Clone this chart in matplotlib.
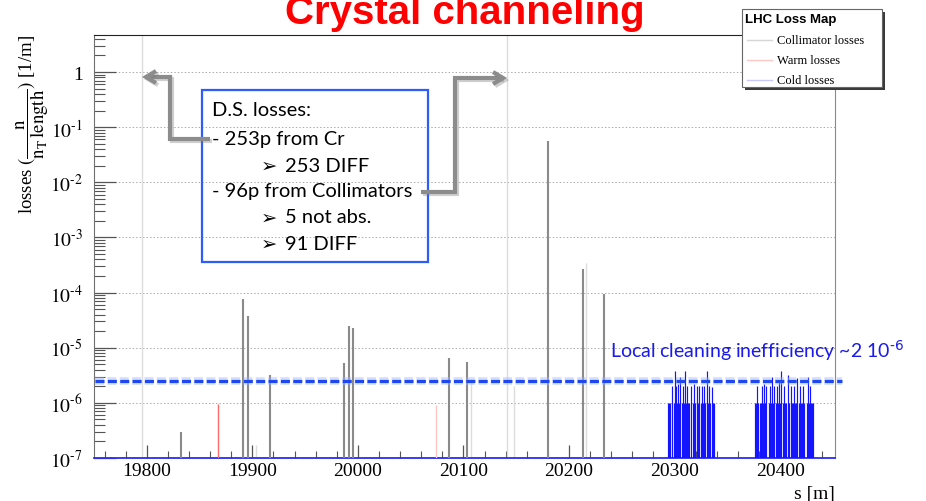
import numpy as np
import matplotlib
matplotlib.use("Agg")
import matplotlib.pyplot as plt
from matplotlib.patches import Rectangle
from matplotlib.ticker import FixedLocator, LogLocator, MultipleLocator, FuncFormatter, NullFormatter
import matplotlib.patheffects as pe
import matplotlib.transforms as mtrans

plt.rcParams['font.family'] = ['Liberation Serif', 'DejaVu Sans']
plt.rcParams['mathtext.fontset'] = 'stix'
plt.rcParams['lines.scale_dashes'] = False

# ---- loss map data: longitudinal position s [m] and normalised loss [1/m]
coll_s = [19832.5, 19891.5, 19896.0, 19917.0, 19987.0, 19991.7, 19995.0,
          20086.7, 20103.0, 20180.0, 20213.6, 20233.0]
coll_loss = [3.0e-7, 7.6e-5, 3.8e-5, 3.2e-6, 5.2e-6, 2.5e-5, 2.3e-5,
             6.5e-6, 5.6e-6, 5.6e-2, 2.7e-4, 9.3e-5]

coll_faint_s = [19795.0, 19903.0, 20107.0, 20141.5, 20148.0, 20216.0]
coll_faint_loss = [10.0, 1.7e-7, 2.4e-6, 10.0, 2.0e-6, 3.4e-4]

warm_s = [19867.8, 20074.0]
warm_loss = [9.5e-7, 9.0e-7]

cold_s = [20294, 20295, 20296, 20298, 20299, 20300, 20301, 20302, 20303, 20304,
          20305, 20307, 20308, 20309, 20310, 20311, 20312, 20313, 20314, 20316,
          20317, 20318, 20319, 20321, 20322, 20323, 20325, 20326, 20327, 20328,
          20329, 20331, 20332, 20333, 20334, 20335, 20336, 20337,
          20376, 20377, 20378, 20379, 20381, 20382, 20383, 20384, 20385, 20386,
          20387, 20389, 20390, 20391, 20392, 20393, 20394, 20396, 20397, 20398,
          20399, 20400, 20401, 20403, 20404, 20405, 20406, 20407, 20408, 20410,
          20411, 20412, 20413, 20414, 20415, 20416, 20418, 20419, 20420, 20421,
          20422, 20423, 20425, 20426, 20427, 20428, 20429, 20430, 20431]
cold_loss = [1e-6, 1e-6, 1e-6, 2e-6, 1e-6, 3.8e-6, 2e-6, 1e-6, 2.2e-6, 1e-6,
             3e-6, 1e-6, 2e-6, 1e-6, 3.8e-6, 1e-6, 2e-6, 1e-6, 1e-6, 2e-6,
             1e-6, 2.2e-6, 1e-6, 2e-6, 1e-6, 2e-6, 1e-6, 2e-6, 1e-6, 2e-6,
             1e-6, 3.8e-6, 1e-6, 2e-6, 1e-6, 1.9e-6, 1e-6, 1e-6,
             1e-6, 1e-6, 2e-6, 1e-6, 1e-6, 1e-6, 2e-6, 1e-6, 2.2e-6, 1e-6,
             2e-6, 1e-6, 2e-6, 1e-6, 3e-6, 1e-6, 2e-6, 1e-6, 2e-6, 1e-6,
             2.5e-6, 1e-6, 3.8e-6, 1e-6, 2e-6, 1e-6, 1e-6, 3.2e-6, 1e-6, 2e-6,
             1e-6, 1e-6, 2e-6, 1e-6, 1e-6, 2.8e-6, 1e-6, 2e-6, 1e-6, 1e-6,
             2e-6, 1e-6, 1e-6, 3e-6, 1e-6, 2e-6, 1e-6, 1e-6, 1e-6]

cleaning_limit = 2.5e-6

y_decades = [1e-7, 1e-6, 1e-5, 1e-4, 1e-3, 1e-2, 1e-1, 1.0]
x_range = (19750, 20452)
y_range = (1e-7, 4.7)

W, H = 926, 502
fig = plt.figure(figsize=(W / 100, H / 100), dpi=100)
ax = fig.add_axes([94 / W, 43 / H, 741 / W, 423 / H])
ax.set_yscale('log')
ax.set_xlim(*x_range)
ax.set_ylim(*y_range)

# horizontal dotted grid at each decade
for v in y_decades[1:]:
    ax.axhline(v, color='#a8a8a8', lw=0.7, ls=(0, (1, 1.5)), zorder=0)

floor = y_range[0]
ax.vlines(coll_faint_s, floor, coll_faint_loss, color='#dcdcdc', lw=1.0, zorder=2)
ax.vlines(coll_s, floor, coll_loss, color='#8a8a8a', lw=1.5, zorder=3)
ax.vlines(warm_s[:1], floor, warm_loss[:1], color='#ff6a6a', lw=1.0, zorder=3)
ax.vlines(warm_s[1:], floor, warm_loss[1:], color='#ffc4c4', lw=1.0, zorder=3)
ax.vlines(cold_s, floor, cold_loss, color='#1414ff', lw=0.85, zorder=3)

# axis frame
ax.spines['left'].set_color('#707070')
ax.spines['right'].set_color('#8a8a8a')
ax.spines['top'].set_color('#222222')
ax.spines['bottom'].set_color('#2a2aff')
ax.spines['bottom'].set_linewidth(1.3)

ax.yaxis.set_major_locator(FixedLocator(y_decades))
ax.yaxis.set_minor_locator(LogLocator(base=10, subs=np.arange(2, 10), numticks=20))
ax.yaxis.set_minor_formatter(NullFormatter())


def ylab(v, pos):
    e = int(round(np.log10(v)))
    return '1' if e == 0 else r'$10^{\text{-}%d}$' % abs(e)


ax.yaxis.set_major_formatter(FuncFormatter(ylab))
ax.xaxis.set_major_locator(MultipleLocator(100))
ax.xaxis.set_minor_locator(MultipleLocator(20))
ax.tick_params(axis='y', which='major', direction='in', length=16, width=0.9,
               color='#555555', labelsize=14, pad=8)
ax.tick_params(axis='y', which='minor', direction='in', length=8, width=0.8,
               color='#555555')
ax.tick_params(axis='x', which='major', direction='in', length=9.5, width=0.9,
               color='#555555', labelsize=14, pad=3)
ax.tick_params(axis='x', which='minor', direction='in', length=5, width=0.8,
               color='#555555')

# local cleaning inefficiency level
trans = mtrans.blended_transform_factory(ax.transAxes, ax.transData)
xr = 1 + 7 / 741
ax.plot([0.002, xr], [cleaning_limit] * 2, transform=trans, color='#9fb4ff',
        lw=5.5, alpha=0.45, ls=(0, (6.5, 2.4)), clip_on=False, zorder=6,
        solid_capstyle='butt', dash_capstyle='butt')
ax.plot([0.002, xr], [cleaning_limit] * 2, transform=trans, color='#1f47f0',
        lw=2.3, ls=(0, (6.5, 2.4)), clip_on=False, zorder=7,
        dash_capstyle='butt')

# ---- overlay in pixel coordinates for title, labels and annotations
ov = fig.add_axes([0, 0, 1, 1], zorder=10)
ov.set_xlim(0, W)
ov.set_ylim(H, 0)
ov.axis('off')
ov.patch.set_alpha(0)

ov.text(465, 24, 'Crystal channeling', color='#ff0000', fontsize=29,
        fontweight='bold', family='Liberation Sans', ha='center', va='baseline')

ov.text(33, 35, r'losses $(\dfrac{\mathrm{n}}{\mathrm{n_{T}\,length}})$ [1/m]',
        rotation=90, ha='center', va='top', fontsize=13.5)
ov.text(835, 495, 's [m]', ha='right', va='center', fontsize=14)

ov.text(610, 358, r'Local cleaning inefficiency ~2 10$^{\text{-}6}$',
        color='#1a1aee', fontsize=14, family='Lato',
        math_fontfamily='dejavusans', ha='left', va='baseline')

# legend box
ov.add_patch(Rectangle((744.5, 12.5), 140, 78, facecolor='#3a3a3a',
                       edgecolor='none', zorder=1))
ov.add_patch(Rectangle((742, 10), 140, 78, facecolor='white',
                       edgecolor='#666666', lw=0.8, zorder=2))
ov.text(745, 19.5, 'LHC Loss Map', family='Liberation Sans', fontweight='bold',
        fontsize=9.5, va='center', ha='left', zorder=3)
legend_items = [('Collimator losses', '#d6d6d6'), ('Warm losses', '#ffc8c8'),
                ('Cold losses', '#c8c8ff')]
for i, (lab, c) in enumerate(legend_items):
    yy = 40.5 + 20 * i
    ov.plot([747, 772], [yy, yy], color=c, lw=1.0, zorder=3)
    ov.text(777, yy, lab, fontsize=9, va='center', ha='left', zorder=3)

# D.S. losses annotation box
ov.add_patch(Rectangle((202, 91), 226, 172, facecolor='none',
                       edgecolor='#2d5bff', lw=1.6, zorder=2))
box_font = ['Lato', 'DejaVu Sans']
box_lines = [(212, 111, 'D.S. losses:', None),
             (212, 140, '- 253p from Cr', None),
             (261, 166.5, '\u27a2', '253 DIFF'),
             (212, 192, '- 96p from Collimators', None),
             (261, 218, '\u27a2', '5 not abs.'),
             (261, 244.5, '\u27a2', '91 DIFF')]
for x, y, s, tail in box_lines:
    if tail is None:
        ov.text(x, y, s, family=box_font, fontsize=14.5, ha='left', va='center',
                zorder=3)
    else:
        ov.text(x, y, s, family='DejaVu Sans', fontweight='bold', fontsize=14,
                ha='left', va='center', zorder=3)
        ov.text(x + 24, y, tail, family=box_font, fontsize=14.5, ha='left',
                va='center', zorder=3)

arrow_kw = dict(color='#8c8c8c', lw=3.0, solid_joinstyle='miter',
                solid_capstyle='butt', zorder=4,
                path_effects=[pe.SimpleLineShadow(offset=(1.5, -1.5),
                                                  shadow_color='#777777',
                                                  alpha=0.35),
                              pe.Normal()])
ov.plot([210, 170, 170, 147], [140, 140, 78, 78], **arrow_kw)
ov.plot([156, 146, 156], [72, 78, 84], **arrow_kw)
ov.plot([421, 455, 455, 502], [193, 193, 79, 79], **arrow_kw)
ov.plot([493, 503, 493], [73, 79, 85], **arrow_kw)

fig.savefig('out.png', dpi=100)
